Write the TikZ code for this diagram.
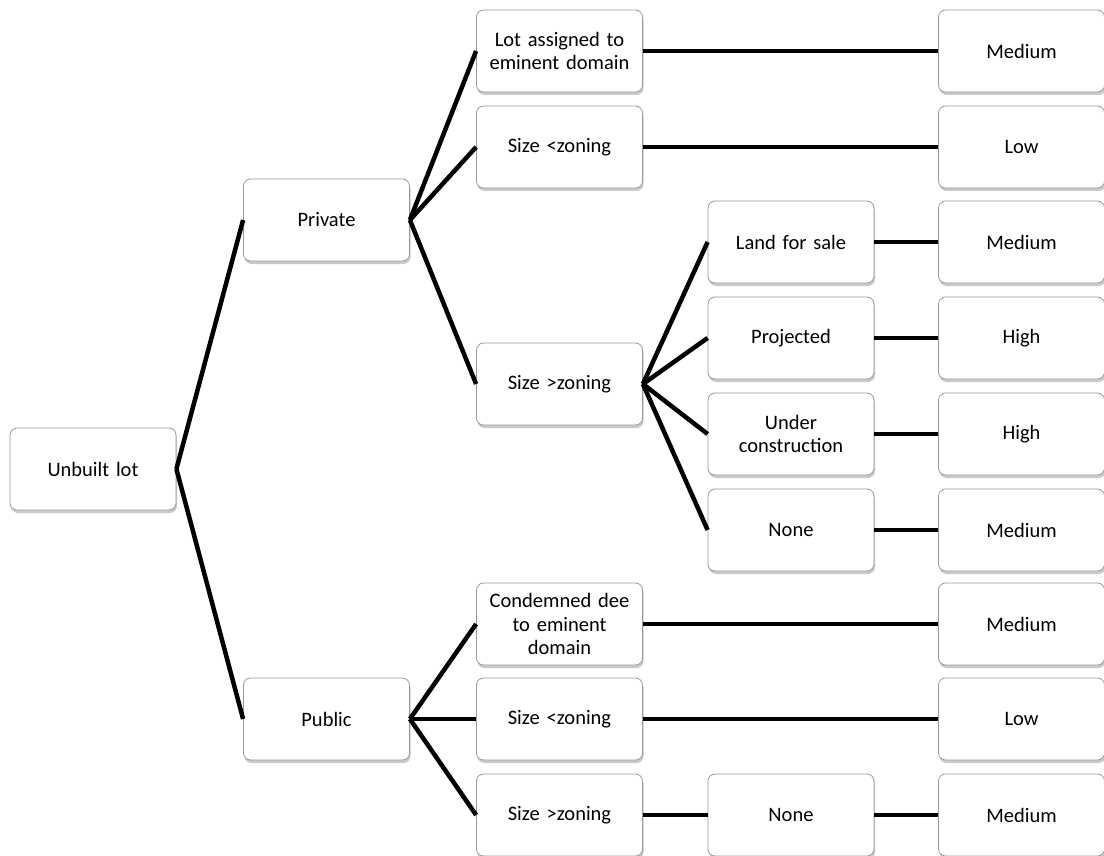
\documentclass[tikz,border=0pt]{standalone}
\usepackage{fontspec}
\setmainfont{Carlito}
\usetikzlibrary{shadows}
\begin{document}
\begin{tikzpicture}[x=1pt,y=-1pt,
  box/.style={draw=black!40, line width=0.8pt, fill=white, rounded corners=7pt,
    minimum width=166pt, minimum height=82pt, text width=160pt, align=center,
    font=\fontsize{20.5}{23.5}\selectfont, inner sep=0pt,
    drop shadow={shadow xshift=1pt, shadow yshift=-3pt, opacity=0.35, fill=black!60}},
  link/.style={line width=4.5pt, line cap=butt}]
\useasboundingbox (0,0) rectangle (1104,856);
% root and first split
\node[box] (root) at (93,469) {Unbuilt lot};
\node[box] (priv) at (326.5,220) {Private};
\node[box] (pub)  at (326.5,719) {Public};
% private branch
\node[box] (pa) at (559.5,51)  {Lot assigned to\\eminent domain};
\node[box] (pb) at (559.5,147) {Size <zoning};
\node[box] (pc) at (559.5,384) {Size >zoning};
\node[box] (c1) at (791,242) {Land for sale};
\node[box] (c2) at (791,338) {Projected};
\node[box] (c3) at (791,434) {Under\\construction};
\node[box] (c4) at (791,530) {None};
% public branch
\node[box] (qa) at (559.5,624) {Condemned dee\\to eminent\\domain};
\node[box] (qb) at (559.5,719) {Size <zoning};
\node[box] (qc) at (559.5,815) {Size >zoning};
\node[box] (q1) at (791,815) {None};
% outcomes
\node[box] (r1) at (1021.5,51)  {Medium};
\node[box] (r2) at (1021.5,147) {Low};
\node[box] (r3) at (1021.5,242) {Medium};
\node[box] (r4) at (1021.5,338) {High};
\node[box] (r5) at (1021.5,434) {High};
\node[box] (r6) at (1021.5,530) {Medium};
\node[box] (r7) at (1021.5,624) {Medium};
\node[box] (r8) at (1021.5,719) {Low};
\node[box] (r9) at (1021.5,815) {Medium};
% connectors: each branch is its own straight segment
\foreach \a/\b in {root/priv, root/pub, priv/pa, priv/pb, priv/pc,
                   pc/c1, pc/c2, pc/c3, pc/c4, pub/qa, pub/qb, pub/qc}
  \draw[link] (\a.east) -- (\b.west);
\foreach \a/\b in {pa/r1, pb/r2, c1/r3, c2/r4, c3/r5, c4/r6,
                   qa/r7, qb/r8, qc/q1, q1/r9}
  \draw[link] (\a) -- (\b);
\end{tikzpicture}
\end{document}
